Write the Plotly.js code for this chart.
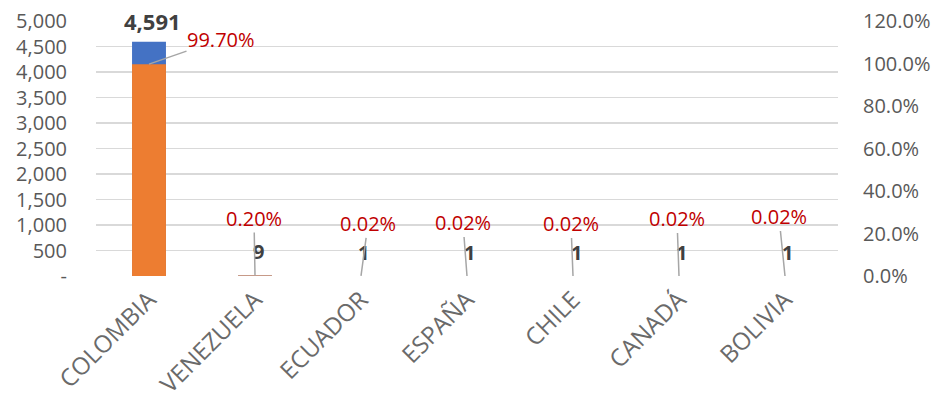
<!DOCTYPE html>
<html>
<head>
<meta charset="utf-8">
<script src="https://cdn.plot.ly/plotly-3.0.1.min.js"></script>
<style>html,body{margin:0;padding:0;background:#fff;}#chart{width:936px;height:411px;}</style>
</head>
<body>
<div id="chart"></div>
<script>
const countries = ["COLOMBIA", "VENEZUELA", "ECUADOR", "ESPAÑA", "CHILE", "CANADÁ", "BOLIVIA"];
const counts = [4591, 9, 1, 1, 1, 1, 1];
const shares = [0.997, 0.002, 0.0002, 0.0002, 0.0002, 0.0002, 0.0002];
const leftTickVals = [0, 500, 1000, 1500, 2000, 2500, 3000, 3500, 4000, 4500, 5000];
const leftTickText = ["-", "500", "1,000", "1,500", "2,000", "2,500", "3,000", "3,500", "4,000", "4,500", "5,000"];
const rightTickVals = [0, 0.2, 0.4, 0.6, 0.8, 1.0, 1.2];

// label placement (pixels)
const countShiftY = [21, 24, 23, 23, 23, 23, 23];
const countShiftX = [3, 3, 2, 2, 3, 2, 2];
const pctAx = [72, -1, 7, -4, -2, -2, -6];
const pctAy = [-25, -57, -52, -53, -52, -57, -59];

const FONT = "Open Sans, Noto Sans, sans-serif";
const GREY = "#595959";

const traces = [
  {type: "bar", x: countries, y: counts, yaxis: "y", marker: {color: "#4472C4"},
   width: 0.32, offset: -0.16, hoverinfo: "skip"},
  {type: "bar", x: countries, y: shares, yaxis: "y2", marker: {color: "#ED7D31"},
   width: 0.32, offset: -0.16, hoverinfo: "skip"}
];

const annotations = [];
countries.forEach((c, i) => {
  annotations.push({
    x: c, y: counts[i], xref: "x", yref: "y",
    text: "<b>" + counts[i].toLocaleString("en-US") + "</b>",
    showarrow: false, yanchor: "middle", xanchor: "center",
    yshift: countShiftY[i], xshift: countShiftX[i], borderpad: 0,
    font: {family: FONT, size: i === 0 ? 22 : 20, color: "#404040"}
  });
  annotations.push({
    x: c, y: shares[i], xref: "x", yref: "y2",
    text: (shares[i] * 100).toFixed(2) + "%",
    showarrow: true, arrowhead: 0, arrowwidth: 1.5, arrowcolor: "#a6a6a6",
    standoff: 0, ax: pctAx[i], ay: pctAy[i], borderpad: 0,
    font: {family: FONT, size: 20, color: "#C00000"}
  });
});

const layout = {
  width: 936, height: 411,
  margin: {l: 96, r: 98, t: 21, b: 135, pad: 0},
  paper_bgcolor: "#ffffff", plot_bgcolor: "#ffffff",
  barmode: "overlay",
  showlegend: false,
  font: {family: FONT, color: GREY},
  xaxis: {
    type: "category", tickangle: -45, showgrid: false, zeroline: false, showline: false,
    ticks: "", tickfont: {family: FONT, size: 24, color: "#6a6a6a"}, ticklabelstandoff: 4
  },
  yaxis: {
    range: [0, 5000], tickvals: leftTickVals, ticktext: leftTickText,
    showgrid: true, gridcolor: "#d9d9d9", gridwidth: 1.8, zeroline: false, showline: false,
    ticks: "", tickfont: {family: FONT, size: 20, color: GREY}, ticklabelstandoff: 28
  },
  yaxis2: {
    overlaying: "y", side: "right", range: [0, 1.2], tickvals: rightTickVals, tickformat: ".1%",
    showgrid: false, zeroline: false, showline: false,
    ticks: "", tickfont: {family: FONT, size: 20, color: GREY}, ticklabelstandoff: 24
  },
  annotations: annotations
};

Plotly.newPlot("chart", traces, layout, {displayModeBar: false, staticPlot: true});
</script>
</body>
</html>
